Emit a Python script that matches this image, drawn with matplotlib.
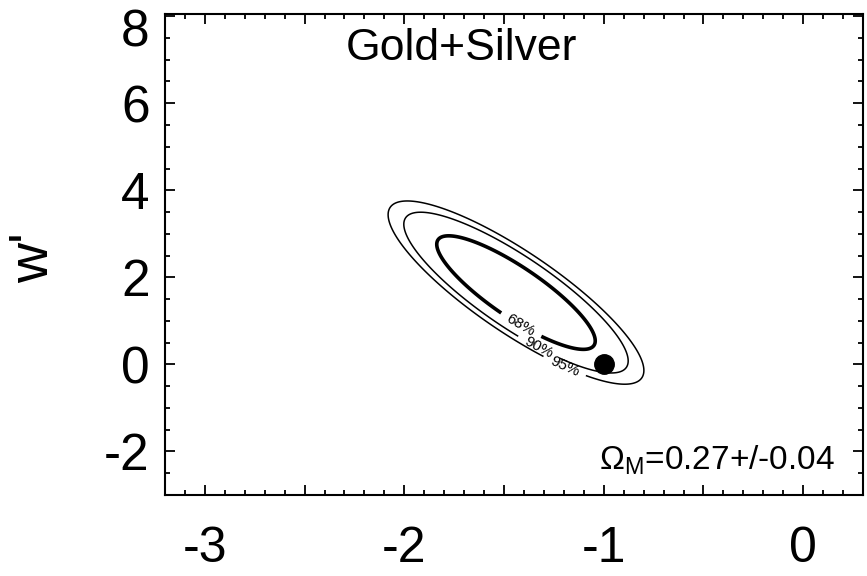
import numpy as np
import matplotlib
matplotlib.use('Agg')
import matplotlib.pyplot as plt
from matplotlib.ticker import MultipleLocator
import matplotlib.transforms as mtransforms

plt.rcParams['font.family'] = ['Liberation Sans', 'DejaVu Sans']
plt.rcParams['axes.unicode_minus'] = False
plt.rcParams['mathtext.fontset'] = 'custom'
plt.rcParams['mathtext.rm'] = 'Liberation Sans'
plt.rcParams['mathtext.it'] = 'Liberation Sans:italic'
plt.rcParams['mathtext.sf'] = 'Liberation Sans'

# ---- data: Gaussian approximation of the likelihood in (w0, w') ----
center_w0 = -1.44
center_wp = 1.65
sigma_w0 = 0.262
sigma_wp = 0.86
rho = -0.85
conf_labels = ['68%', '90%', '95%']
delta_chi2 = [2.30, 4.61, 5.99]
lcdm_w0 = [-1.0]
lcdm_wp = [0.0]
label_pos = [(-1.40, 1.02), (-1.33, 0.36), (-1.22, -0.28)]
x_ticks = [-3, -2, -1, 0]
y_ticks = [-2, 0, 2, 4, 6, 8]
title_text = 'Gold+Silver'
omega_text = r'$\Omega_{\rm M}$=0.27+/-0.04'
ylabel_text = "w'"

# styles
line_widths = [2.6, 1.1, 1.1]

fig = plt.figure(figsize=(8.67, 5.76), dpi=100)
ax = fig.add_axes([165/867, 1-495/576, (863-165)/867, (495-14)/576])

gx = np.linspace(-3.2, 0.3, 600)
gy = np.linspace(-3.0, 8.05, 600)
X, Y = np.meshgrid(gx, gy)
dx = (X - center_w0) / sigma_w0
dy = (Y - center_wp) / sigma_wp
chi2 = (dx**2 - 2*rho*dx*dy + dy**2) / (1 - rho**2)

cs = ax.contour(X, Y, chi2, levels=delta_chi2, colors='black',
                linewidths=line_widths)
fmt = {lev: lab for lev, lab in zip(cs.levels, conf_labels)}
ax.clabel(cs, fmt=fmt, fontsize=11, inline=True, inline_spacing=8,
          manual=label_pos)

ax.plot(lcdm_w0, lcdm_wp, 'o', color='black', markersize=14, zorder=5)

ax.set_xlim(-3.2, 0.3)
ax.set_ylim(-3.0, 8.05)

ax.xaxis.set_major_locator(MultipleLocator(0.5))
ax.xaxis.set_minor_locator(MultipleLocator(0.1))
ax.yaxis.set_major_locator(MultipleLocator(2))
ax.yaxis.set_minor_locator(MultipleLocator(0.5))

def xfmt(v, pos):
    r = round(v)
    return str(int(r)) if abs(v - r) < 1e-6 and r in x_ticks else ''

def yfmt(v, pos):
    r = round(v)
    return str(int(r)) if abs(v - r) < 1e-6 and r in y_ticks else ''

ax.xaxis.set_major_formatter(plt.FuncFormatter(xfmt))
ax.yaxis.set_major_formatter(plt.FuncFormatter(yfmt))

ax.tick_params(which='both', direction='in', top=True, right=True,
               width=1.3, color='black')
ax.tick_params(which='major', length=7)
ax.tick_params(which='minor', length=3.5)
ax.tick_params(axis='x', which='major', labelsize=36, pad=22)
ax.tick_params(axis='y', which='major', labelsize=37, pad=11)
for sp in ax.spines.values():
    sp.set_linewidth(1.5)

fig.canvas.draw()
for lab in ax.get_yticklabels():
    if lab.get_text() == '8':
        lab.set_verticalalignment('top')
        lab.set_transform(lab.get_transform() +
                          mtransforms.ScaledTranslation(0, 8/100, fig.dpi_scale_trans))

ax.text(0.424, 0.904, title_text, transform=ax.transAxes, ha='center',
        va='baseline', fontsize=32)
ax.text(0.96, 0.052, omega_text, transform=ax.transAxes, ha='right',
        va='baseline', fontsize=24)

fig.text(34/867, 1-258/576, ylabel_text, rotation=90, ha='center',
         va='center', fontsize=40)

fig.savefig('out.png', dpi=100)
